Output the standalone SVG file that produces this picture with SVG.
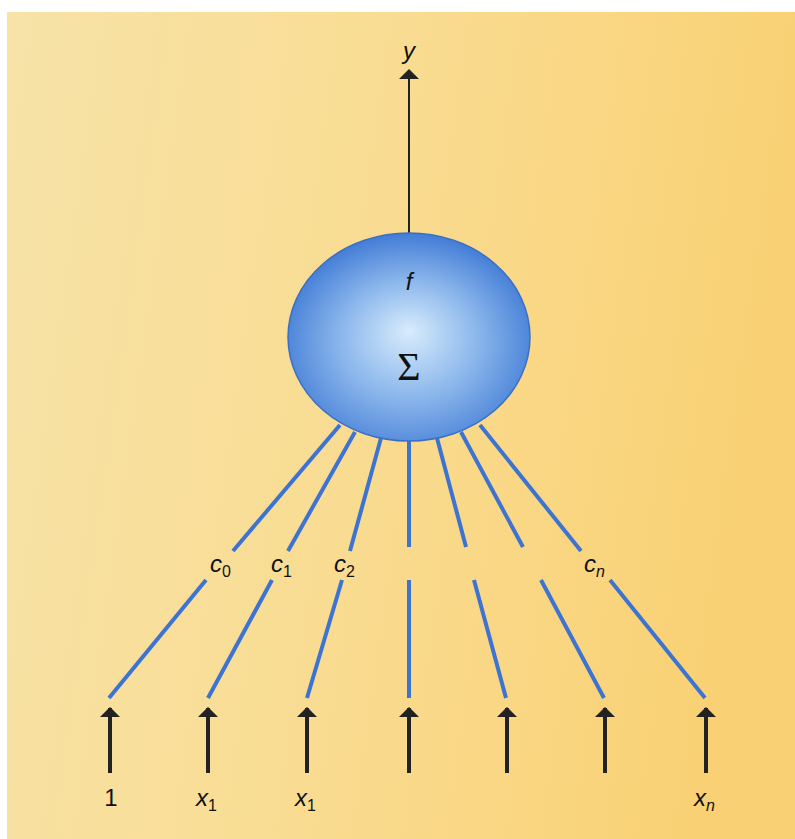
<svg xmlns="http://www.w3.org/2000/svg" width="795" height="839" viewBox="0 0 795 839">
<defs>
<linearGradient id="bg" x1="0" y1="0" x2="1" y2="0.15">
<stop offset="0" stop-color="#f7e3a8"/>
<stop offset="0.5" stop-color="#f9dc92"/>
<stop offset="1" stop-color="#f9d174"/>
</linearGradient>
<radialGradient id="sph" cx="0.5" cy="0.55" r="0.55" fx="0.5" fy="0.47">
<stop offset="0" stop-color="#d8ecfc"/>
<stop offset="0.5" stop-color="#8db8ec"/>
<stop offset="1" stop-color="#427cd6"/>
</radialGradient>
<marker id="ah" viewBox="0 0 5 10" refX="4.5" refY="5" markerWidth="2.5" markerHeight="5" orient="auto" markerUnits="strokeWidth">
<path d="M0,0 L5,5 L0,10 z" fill="#222"/>
</marker>
<marker id="ahs" viewBox="0 0 5 10" refX="4.5" refY="5" markerWidth="5" markerHeight="10" orient="auto" markerUnits="strokeWidth">
<path d="M0,0 L5,5 L0,10 z" fill="#222"/>
</marker>
</defs>
<style>
.w{stroke:#3d74d2;stroke-width:4;fill:none}
.in{stroke:#222;stroke-width:4;fill:none}
.lb{font-family:"Liberation Sans",Arial,sans-serif;font-style:italic;font-size:24px;fill:#111}
.sb{font-size:16px;font-style:normal}
.sbi{font-size:16px;font-style:italic}
.t{font-family:"Liberation Sans",Arial,sans-serif;font-size:24px;fill:#111;text-anchor:middle}
</style>
<rect width="795" height="839" fill="#ffffff"/>
<rect x="7" y="12" width="788" height="827" fill="url(#bg)"/>
<g id="connectors">
<path class="w" d="M340,425 L233,551 M206,580 L109,698"/>
<path class="w" d="M355,432 L288,551 M272,580 L208,698"/>
<path class="w" d="M381,438 L350,551 M342,580 L307,698"/>
<path class="w" d="M409,440 L409,547 M409,580 L409,698"/>
<path class="w" d="M437,438 L466,547 M474,580 L506,698"/>
<path class="w" d="M461,432 L523,547 M541,580 L604,698"/>
<path class="w" d="M480,425 L581,551 M610,580 L705,698"/>
<line x1="409" y1="235" x2="409" y2="70" stroke="#222" stroke-width="2" marker-end="url(#ahs)"/>
<line class="in" x1="110" y1="773" x2="110" y2="708" marker-end="url(#ah)"/>
<line class="in" x1="208" y1="773" x2="208" y2="708" marker-end="url(#ah)"/>
<line class="in" x1="307" y1="773" x2="307" y2="708" marker-end="url(#ah)"/>
<line class="in" x1="409" y1="773" x2="409" y2="708" marker-end="url(#ah)"/>
<line class="in" x1="507" y1="773" x2="507" y2="708" marker-end="url(#ah)"/>
<line class="in" x1="605" y1="773" x2="605" y2="708" marker-end="url(#ah)"/>
<line class="in" x1="706" y1="773" x2="706" y2="708" marker-end="url(#ah)"/>
</g>
<g id="neuron">
<ellipse cx="409" cy="337" rx="121" ry="104" fill="url(#sph)" stroke="#3a6fc6" stroke-width="1.5"/>
<text class="lb" x="409" y="290" text-anchor="middle">f</text>
<text x="409" y="380" text-anchor="middle" font-family="'Liberation Serif','Times New Roman',serif" font-size="40" fill="#111">Σ</text>
</g>
<g id="output-label"><text class="lb" x="409" y="59" text-anchor="middle">y</text></g>
<g id="weights">
<text class="lb" x="210" y="572">c<tspan class="sb" dy="5">0</tspan></text>
<text class="lb" x="271" y="572">c<tspan class="sb" dy="5">1</tspan></text>
<text class="lb" x="334" y="572">c<tspan class="sb" dy="5">2</tspan></text>
<text class="lb" x="584" y="572">c<tspan class="sbi" dy="5">n</tspan></text>
</g>
<g id="inputs">
<text class="t" x="111" y="806">1</text>
<text class="lb" x="196" y="806">x<tspan class="sb" dy="5">1</tspan></text>
<text class="lb" x="295" y="806">x<tspan class="sb" dy="5">1</tspan></text>
<text class="lb" x="694" y="806">x<tspan class="sbi" dy="5">n</tspan></text>
</g>
</svg>
